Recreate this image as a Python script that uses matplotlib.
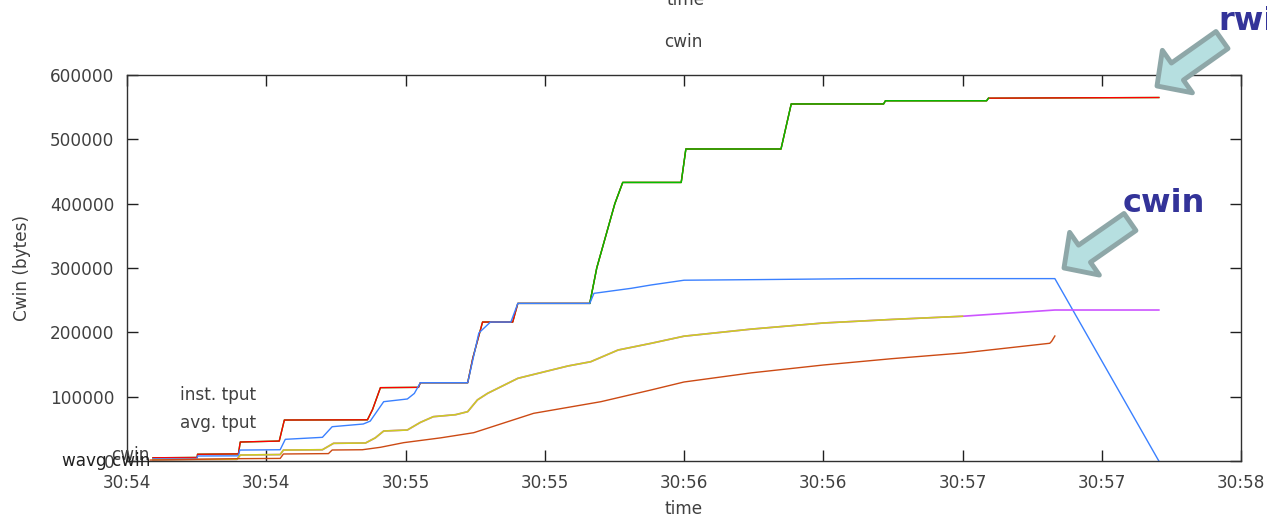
import matplotlib
matplotlib.use("Agg")
import matplotlib.pyplot as plt
import numpy as np

# time in seconds from first tick, values in bytes
tick_labels = ['30:54', '30:54', '30:55', '30:55', '30:56', '30:56', '30:57', '30:57', '30:58']

rwin_t = [5.6, 15.1, 15.2, 24.0, 24.4, 32.8, 33.9, 51.8, 52.9, 54.6, 62.8, 63.2, 73.4, 74.5,
          76.6, 83.1, 84.2, 99.7, 101.2, 105.1, 106.8, 119.4, 120.4, 140.9, 143.1, 163.0,
          163.4, 185.2, 185.6, 222.3]
rwin_v = [5000, 5500, 10500, 11000, 29500, 31000, 63700, 64000, 80000, 114000, 114500, 121700,
          121700, 160000, 216000, 216000, 245000, 245000, 300000, 400000, 433000, 433000,
          485000, 485000, 555000, 555000, 560000, 560000, 564000, 565000]

cwin_t = [5.6, 15.1, 15.2, 24.0, 24.3, 33.0, 34.1, 42.1, 44.2, 50.9, 52.4, 55.3, 60.4, 61.9,
          63.2, 73.4, 75.8, 78.3, 82.7, 84.2, 99.7, 100.6, 108.6, 112.9, 120.0, 136.6, 158.2,
          199.9, 222.3]
cwin_v = [3600, 3800, 7800, 8000, 17000, 17500, 33700, 36800, 53300, 57500, 62000, 92200,
          96400, 105000, 121700, 121700, 199000, 216000, 216000, 245000, 245000, 260600,
          268400, 273600, 281000, 282000, 283500, 283500, 0]

avg_t = [5.6, 23.7, 24.4, 33.0, 33.7, 42.1, 44.5, 51.4, 53.5, 55.3, 60.4, 63.2, 66.0, 70.8,
         73.4, 75.5, 77.7, 84.2, 95.0, 99.9, 105.8, 112.9, 120.0, 134.5, 150.0, 164.7, 180.0,
         199.9, 222.3]
avg_v = [2000, 2600, 9300, 10000, 17000, 17500, 27500, 28000, 36000, 46600, 48200, 60000,
         68900, 72000, 76700, 95000, 105200, 128500, 147700, 154300, 172500, 182900, 194000,
         205000, 214500, 220000, 225000, 234700, 234700]

wavg_t = [5.0, 23.7, 33.0, 33.7, 43.4, 44.2, 50.7, 54.6, 59.6, 67.6, 74.7, 87.6, 102.1, 112.9,
          120.0, 134.5, 150.0, 164.7, 180.0, 198.8, 199.2, 199.9]
wavg_v = [1500, 3600, 4000, 10900, 11500, 17100, 17500, 21300, 28500, 36000, 44000, 74100,
          92200, 110400, 122800, 137000, 149200, 159000, 167900, 183000, 186000, 194300]

txt = '#404040'
plt.rcParams['font.family'] = ['DejaVu Sans']
plt.rcParams['font.size'] = 12.2

fig = plt.figure(figsize=(12.67, 5.2), dpi=100)
ax = fig.add_axes([127 / 1267, 1 - 461 / 520, (1241 - 127) / 1267, (461 - 75) / 520])

rt = np.array(rwin_t)
rv = np.array(rwin_v)
ax.plot(rt, rv, color='#00c000', lw=1)
ax.plot(rt, rv, color='#ff0000', lw=1)
late = (rt >= 99) & (rt <= 186)
ax.plot(rt[late], rv[late], color='#00c000', lw=1)

ax.plot(cwin_t, cwin_v, color='#3a80ff', lw=1)
ax.plot(avg_t, avg_v, color='#cc55ff', lw=1.2)
at = np.array(avg_t)
ax.plot(at[at < 199], np.array(avg_v)[at < 199], color='#cccc22', lw=1.2)
ax.plot(wavg_t, wavg_v, color='#cc4a14', lw=1)

ax.set_xlim(0, 240)
ax.set_ylim(0, 600000)
ax.set_xticks(np.arange(0, 241, 30))
ax.set_xticklabels(tick_labels)
ax.set_yticks(np.arange(0, 600001, 100000))
ax.tick_params(direction='in', length=8, width=1, top=True, right=True,
               colors='#202020', labelcolor=txt, pad=9)
for s in ax.spines.values():
    s.set_color('#303030')
    s.set_linewidth(1)

ax.set_xlabel('time', color=txt, labelpad=6)
ax.set_ylabel('Cwin (bytes)', color=txt, labelpad=14)

fig.text(683 / 1267, 1 - 42 / 520, 'cwin', ha='center', va='center', color=txt)
fig.text(686 / 1267, 1 - 0 / 520, 'time', ha='center', va='center', color=txt)

# gnuplot key labels
fig.text(180 / 1267, 1 - 395 / 520, 'inst. tput', ha='left', va='center', color=txt)
fig.text(180 / 1267, 1 - 423 / 520, 'avg. tput', ha='left', va='center', color=txt)
fig.text(150 / 1267, 1 - 455 / 520, 'cwin', ha='right', va='center', color=txt)
fig.text(150 / 1267, 1 - 461 / 520, 'wavg cwin', ha='right', va='center', color='#202020')

# callouts
arrow = dict(arrowstyle='simple,head_length=0.6,head_width=1.25,tail_width=0.5',
             fc='#b6dfe0', ec='#8ea7a8', lw=3.5, shrinkA=0, shrinkB=0, mutation_scale=30)
ax.annotate('', xy=(1157, 520 - 86), xytext=(1222, 520 - 40),
            xycoords='figure pixels', textcoords='figure pixels', arrowprops=arrow)
ax.annotate('', xy=(1064, 520 - 268), xytext=(1130, 520 - 222),
            xycoords='figure pixels', textcoords='figure pixels', arrowprops=arrow)
fig.text(1218 / 1267, 1 - 22 / 520, 'rwin', ha='left', va='center',
         fontsize=23, fontweight='bold', color='#333399')
fig.text(1123 / 1267, 1 - 203 / 520, 'cwin', ha='left', va='center',
         fontsize=23, fontweight='bold', color='#333399')

fig.savefig('out.png', dpi=100)
